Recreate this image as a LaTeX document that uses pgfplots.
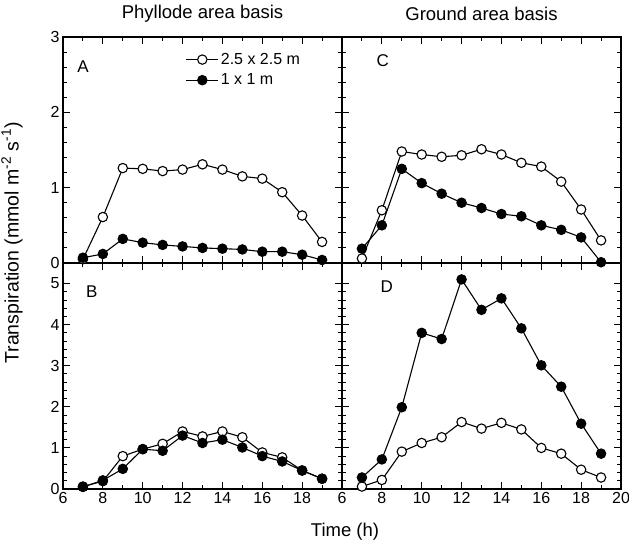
\documentclass[border=0pt]{standalone}
\usepackage{pgfplots}
\usepackage{pgfplotstable}
\pgfplotsset{compat=1.18}
\usepackage{fontspec}
\setmainfont{Liberation Sans}

\pgfplotstableread{
x open filled
7 0.05 0.07
8 0.61 0.12
9 1.26 0.32
10 1.25 0.27
11 1.22 0.24
12 1.24 0.22
13 1.31 0.20
14 1.24 0.19
15 1.15 0.18
16 1.12 0.15
17 0.94 0.15
18 0.63 0.11
19 0.28 0.04
}\dataA

\pgfplotstableread{
x open filled
7 0.06 0.19
8 0.70 0.50
9 1.48 1.25
10 1.44 1.06
11 1.41 0.92
12 1.43 0.80
13 1.51 0.73
14 1.44 0.65
15 1.33 0.62
16 1.28 0.50
17 1.08 0.44
18 0.71 0.34
19 0.30 0.01
}\dataC

\pgfplotstableread{
x open filled
7 0.06 0.05
8 0.19 0.21
9 0.80 0.49
10 0.97 0.97
11 1.10 0.93
12 1.40 1.30
13 1.28 1.12
14 1.40 1.20
15 1.26 1.01
16 0.89 0.80
17 0.77 0.67
18 0.45 0.45
19 0.25 0.25
}\dataB

\pgfplotstableread{
x open filled
7 0.06 0.28
8 0.22 0.72
9 0.91 1.99
10 1.12 3.80
11 1.26 3.65
12 1.63 5.10
13 1.47 4.36
14 1.61 4.64
15 1.45 3.91
16 1.00 3.01
17 0.86 2.49
18 0.47 1.59
19 0.28 0.86
}\dataD

\tikzset{lett/.style={font=\fontsize{17}{20}\selectfont}}
\pgfplotsset{
  panel/.style={
    scale only axis, width=279pt, height=226pt,
    xmin=6, xmax=20, ymin=0,
    xtick={6,8,...,20}, minor x tick num=1, minor y tick num=4,
    tick align=inside, major tick length=7pt, minor tick length=4pt,
    ticklabel style={font=\fontsize{16}{19}\selectfont},
    /pgf/number format/assume math mode=true,
    axis line style={line width=1.1pt},
    tick style={line width=0.9pt, black},
    every axis plot/.append style={line width=1.1pt, black},
    title style={anchor=center, yshift=17pt, font=\fontsize{18.5}{21}\selectfont},
  },
  openser/.style={mark=*, mark size=4.7pt, mark options={fill=white, draw=black, line width=1.1pt}},
  fillser/.style={mark=*, mark size=4.7pt, mark options={fill=black, draw=black}},
}

\begin{document}
\begin{tikzpicture}
\useasboundingbox (-63pt,-54pt) rectangle (566pt,489pt);

% Panel B (bottom left)
\begin{axis}[panel, at={(0pt,0pt)}, anchor=south west,
  ymax=5.5, ytick={0,1,2,3,4,5},
  xticklabels={6,8,10,12,14,16,18,}]
\addplot[openser] table[x=x,y=open] {\dataB};
\addplot[fillser] table[x=x,y=filled] {\dataB};
\node[lett] at (axis cs:7.45,4.8) {B};
\end{axis}

% Panel D (bottom right)
\begin{axis}[panel, at={(279pt,0pt)}, anchor=south west,
  ymax=5.5, ytick={0,1,2,3,4,5}, yticklabels={}]
\addplot[openser] table[x=x,y=open] {\dataD};
\addplot[fillser] table[x=x,y=filled] {\dataD};
\node[lett] at (axis cs:8.25,4.93) {D};
\end{axis}

% Panel A (top left)
\begin{axis}[panel, at={(0pt,226pt)}, anchor=south west,
  ymax=3, ytick={0,1,2,3}, xticklabels={},
  title={Phyllode area basis},
  legend style={draw=none, fill=none, at={(axis cs:12,2.84)}, anchor=north west,
    font=\fontsize{16}{19}\selectfont, row sep=4pt},
  legend cell align=left,
  legend image code/.code={\draw[mark repeat=2,mark phase=2] plot coordinates {(0pt,0pt) (16pt,0pt) (32pt,0pt)};}]
\addplot[openser] table[x=x,y=open] {\dataA};
\addlegendentry{2.5 x 2.5 m}
\addplot[fillser] table[x=x,y=filled] {\dataA};
\addlegendentry{1 x 1 m}
\node[lett] at (axis cs:7.0,2.61) {A};
\end{axis}

% Panel C (top right)
\begin{axis}[panel, at={(279pt,226pt)}, anchor=south west,
  ymax=3, ytick={0,1,2,3}, xticklabels={}, yticklabels={},
  title={Ground area basis}]
\addplot[openser] table[x=x,y=open] {\dataC};
\addplot[fillser] table[x=x,y=filled] {\dataC};
\node[lett] at (axis cs:8.05,2.68) {C};
\end{axis}

\node[font=\fontsize{18.5}{21}\selectfont] at (282pt,-43pt) {Time (h)};
\node[rotate=90, font=\fontsize{19.5}{22}\selectfont] at (-51pt,246pt)
  {Transpiration (mmol m\textsuperscript{-2} s\textsuperscript{-1})};
\end{tikzpicture}
\end{document}
